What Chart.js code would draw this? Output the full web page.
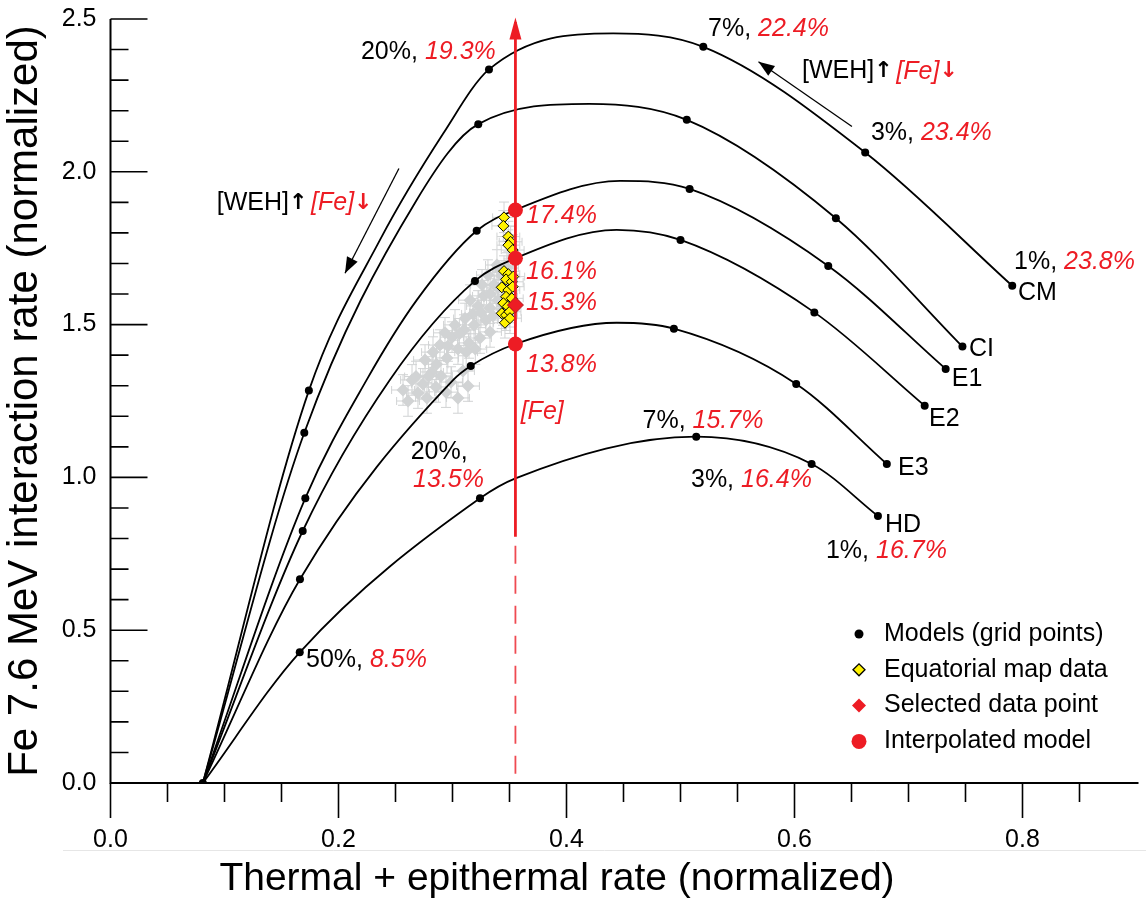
<!DOCTYPE html>
<html>
<head>
<meta charset="utf-8">
<title>Fe 7.6 MeV vs thermal + epithermal</title>
<script src="https://cdn.jsdelivr.net/npm/chart.js@4.4.1/dist/chart.umd.min.js"></script>
<style>
  html, body { margin: 0; padding: 0; background: #fff; }
  #wrap { width: 1146px; height: 901px; }
</style>
</head>
<body>
<div id="wrap"><canvas id="fePlot" width="1146" height="901"></canvas></div>
<script>
'use strict';

const FONT = '"Liberation Sans", Arial, Helvetica, sans-serif';
const RED = '#ed1c24';
const GREY = '#d1d3d4';

// axis ticks
const xTicks = [0, 0.2, 0.4, 0.6, 0.8];
const yTicks = [0, 0.5, 1.0, 1.5, 2.0, 2.5];

// all model curves start here (100% WEH)
const originX = 0.081;
const originY = 0;

// grid points per model, WEH = 50, 20, 7, 3, 1 %
const cmX = [0.174, 0.332, 0.520, 0.662, 0.791];
const cmY = [1.284, 2.335, 2.409, 2.063, 1.627];
const ciX = [0.170, 0.3226, 0.5055, 0.6363, 0.7473];
const ciY = [1.146, 2.156, 2.170, 1.848, 1.428];
const e1X = [0.1709, 0.3212, 0.508, 0.6296, 0.7326];
const e1Y = [0.932, 1.807, 1.944, 1.692, 1.355];
const e2X = [0.1686, 0.3197, 0.500, 0.6174, 0.7142];
const e2Y = [0.8246, 1.643, 1.777, 1.540, 1.2346];
const e3X = [0.1662, 0.316, 0.4942, 0.6015, 0.681];
const e3Y = [0.6666, 1.3645, 1.4866, 1.3056, 1.044];
const hdX = [0.166, 0.3241, 0.5138, 0.615, 0.6732];
const hdY = [0.4277, 0.9316, 1.1332, 1.044, 0.8737];

// extra points along each model curve: rising limb, crossing with [Fe], top
const cmTraceX = [0.2364, 0.292, 0.441];
const cmTraceY = [1.777, 2.126, 2.453];
const ciTraceX = [0.2686, 0.420];
const ciTraceY = [1.908, 2.222];
const e1TraceX = [0.2247, 0.2686, 0.3552, 0.447];
const e1TraceY = [1.319, 1.580, 1.875, 1.970];
const e2TraceX = [0.245, 0.3552, 0.444];
const e2TraceY = [1.319, 1.717, 1.810];
const e3TraceX = [0.3007, 0.3552, 0.444];
const e3TraceY = [1.319, 1.4365, 1.506];
const hdTraceX = [0.3552];
const hdTraceY = [0.997];

// orbital data (grey) with error bars
const greyX = [0.2566, 0.261, 0.2645, 0.2697, 0.2741, 0.2776, 0.282, 0.2855, 0.2899, 0.2943,
  0.2987, 0.3048, 0.3092, 0.3136, 0.2759, 0.2829, 0.289, 0.2952, 0.2996, 0.3048,
  0.3101, 0.3145, 0.3189, 0.3241, 0.3294, 0.3022, 0.2934, 0.3329, 0.3224, 0.3276,
  0.3329, 0.3364, 0.3399, 0.3434, 0.3461, 0.3311, 0.339, 0.3443, 0.3154, 0.3259,
  0.3478, 0.3355, 0.318, 0.311, 0.306, 0.286, 0.279, 0.268, 0.296, 0.320,
  0.333, 0.340, 0.325, 0.312];
const greyY = [1.286, 1.250, 1.319, 1.276, 1.306, 1.260, 1.345, 1.296, 1.332, 1.279,
  1.312, 1.260, 1.348, 1.299, 1.384, 1.410, 1.433, 1.391, 1.459, 1.420,
  1.482, 1.440, 1.499, 1.456, 1.515, 1.499, 1.473, 1.476, 1.561, 1.594,
  1.554, 1.630, 1.580, 1.659, 1.613, 1.662, 1.695, 1.548, 1.580, 1.630,
  1.685, 1.528, 1.535, 1.520, 1.470, 1.370, 1.330, 1.330, 1.430, 1.420,
  1.600, 1.620, 1.540, 1.410];
const errX = 0.01;
const errY = 0.05;

// equatorial map data (yellow)
const eqX = [0.3452, 0.3446, 0.349, 0.351, 0.349, 0.3528, 0.3452, 0.349, 0.347, 0.352,
  0.3432, 0.349, 0.3528, 0.347, 0.352, 0.3446, 0.3484, 0.3432, 0.347, 0.350,
  0.346, 0.3504, 0.3533];
const eqY = [1.851, 1.823, 1.788, 1.771, 1.760, 1.744, 1.675, 1.665, 1.648, 1.640,
  1.622, 1.613, 1.624, 1.591, 1.586, 1.570, 1.559, 1.537, 1.531, 1.542,
  1.506, 1.521, 1.657];

// selected point and the interpolated models at its abscissa
const selX = [0.3552];
const selY = [1.564];
const interpX = [0.3552, 0.3552, 0.3552];
const interpY = [1.875, 1.717, 1.4365];

// the [Fe] arrow
const feLineX = 0.3552;
const feSolidY = [0.806, 2.49];
const feDashY = [0.03, 0.78];
const feTipY = 2.505;

function toPts(xs, ys) {
  return xs.map((x, i) => ({x: x, y: ys[i]}));
}

function curvePts(gx, gy, tx, ty) {
  const pts = [{x: originX, y: originY}].concat(toPts(gx, gy), toPts(tx, ty));
  return pts.sort((a, b) => a.x - b.x);
}

function curve(label, pts) {
  return {
    label: label, data: pts, showLine: true, order: 5,
    borderColor: '#000', borderWidth: 1.8, pointRadius: 0,
    cubicInterpolationMode: 'monotone', fill: false
  };
}

const gridPts = [{x: originX, y: originY}].concat(
  toPts(cmX, cmY), toPts(ciX, ciY), toPts(e1X, e1Y),
  toPts(e2X, e2Y), toPts(e3X, e3Y), toPts(hdX, hdY));

// arrow glyphs next to [WEH] and [Fe]
const UP = {t: '\u2191 ', arrow: 1};
const DOWN = {t: '\u2193', red: 1, arrow: 1};

// text placed on the plot, in data units (left edge, vertical middle)
const notes = [
  {x: 0.2197, y: 2.392, parts: [{t: '20%, '}, {t: '19.3%', red: 1, it: 1}]},
  {x: 0.5242, y: 2.466, parts: [{t: '7%, '}, {t: '22.4%', red: 1, it: 1}]},
  {x: 0.6066, y: 2.328, parts: [{t: '[WEH]'}, UP, {t: '[Fe]', red: 1, it: 1}, DOWN]},
  {x: 0.667, y: 2.127, parts: [{t: '3%, '}, {t: '23.4%', red: 1, it: 1}]},
  {x: 0.7926, y: 1.706, parts: [{t: '1%, '}, {t: '23.8%', red: 1, it: 1}]},
  {x: 0.796, y: 1.604, parts: [{t: 'CM'}]},
  {x: 0.753, y: 1.420, parts: [{t: 'CI'}]},
  {x: 0.738, y: 1.321, parts: [{t: 'E1'}]},
  {x: 0.718, y: 1.190, parts: [{t: 'E2'}]},
  {x: 0.6908, y: 1.030, parts: [{t: 'E3'}]},
  {x: 0.6794, y: 0.844, parts: [{t: 'HD'}]},
  {x: 0.6276, y: 0.760, parts: [{t: '1%, '}, {t: '16.7%', red: 1, it: 1}]},
  {x: 0.5092, y: 0.9915, parts: [{t: '3%, '}, {t: '16.4%', red: 1, it: 1}]},
  {x: 0.4667, y: 1.1855, parts: [{t: '7%, '}, {t: '15.7%', red: 1, it: 1}]},
  {x: 0.2633, y: 1.084, parts: [{t: '20%,'}]},
  {x: 0.2654, y: 0.9915, parts: [{t: '13.5%', red: 1, it: 1}]},
  {x: 0.1715, y: 0.4025, parts: [{t: '50%, '}, {t: '8.5%', red: 1, it: 1}]},
  {x: 0.3598, y: 1.215, parts: [{t: '[Fe]', red: 1, it: 1}]},
  {x: 0.3645, y: 1.855, parts: [{t: '17.4%', red: 1, it: 1}]},
  {x: 0.3645, y: 1.673, parts: [{t: '16.1%', red: 1, it: 1}]},
  {x: 0.3645, y: 1.570, parts: [{t: '15.3%', red: 1, it: 1}]},
  {x: 0.3645, y: 1.368, parts: [{t: '13.8%', red: 1, it: 1}]},
  {x: 0.0932, y: 1.897, parts: [{t: '[WEH]'}, UP, {t: '[Fe]', red: 1, it: 1}, DOWN]}
];

// direction arrows: tail -> head, data units
const arrows = [
  {x0: 0.253, y0: 2.011, x1: 0.2057, y1: 1.668},
  {x0: 0.6504, y0: 2.148, x1: 0.5684, y1: 2.360}
];

const legendItems = [
  {text: 'Models (grid points)', style: 'circle', r: 4.5, fill: '#000', border: 0},
  {text: 'Equatorial map data', style: 'rectRot', r: 6, fill: '#fff200', border: 1},
  {text: 'Selected data point', style: 'rectRot', r: 7, fill: RED, border: 0},
  {text: 'Interpolated model', style: 'circle', r: 7.5, fill: RED, border: 0}
];

function drawParts(ctx, px, py, parts) {
  let cx = px;
  ctx.textBaseline = 'middle';
  ctx.textAlign = 'left';
  parts.forEach(p => {
    if (p.arrow) {
      ctx.font = 'bold 22px "DejaVu Sans", sans-serif';
    } else {
      ctx.font = (p.it ? 'italic ' : '') + '25px ' + FONT;
    }
    ctx.fillStyle = p.red ? RED : '#000';
    ctx.fillText(p.t, cx, py);
    cx += ctx.measureText(p.t).width - (p.arrow ? 4 : 0);
  });
}

function arrowHead(ctx, x0, y0, x1, y1, len, half) {
  const ang = Math.atan2(y1 - y0, x1 - x0);
  ctx.beginPath();
  ctx.moveTo(x1, y1);
  ctx.lineTo(x1 - len * Math.cos(ang) + half * Math.sin(ang), y1 - len * Math.sin(ang) - half * Math.cos(ang));
  ctx.lineTo(x1 - len * Math.cos(ang) - half * Math.sin(ang), y1 - len * Math.sin(ang) + half * Math.cos(ang));
  ctx.closePath();
  ctx.fill();
}

const underlay = {
  id: 'underlay',
  beforeDatasetsDraw(chart) {
    const {ctx, scales: {x, y}} = chart;
    ctx.save();
    // faint panel edge under the tick labels
    ctx.strokeStyle = '#e6e6e6';
    ctx.lineWidth = 1;
    ctx.beginPath();
    ctx.moveTo(63, 850.5); ctx.lineTo(1146, 850.5);
    ctx.stroke();
    // error bars
    ctx.strokeStyle = GREY;
    ctx.beginPath();
    const bars = (xs, ys) => xs.forEach((v, i) => {
      const px = x.getPixelForValue(v), py = y.getPixelForValue(ys[i]);
      const xa = x.getPixelForValue(v - errX), xb = x.getPixelForValue(v + errX);
      const ya = y.getPixelForValue(ys[i] - errY), yb = y.getPixelForValue(ys[i] + errY);
      ctx.moveTo(xa, py); ctx.lineTo(xb, py);
      ctx.moveTo(xa, py - 4); ctx.lineTo(xa, py + 4);
      ctx.moveTo(xb, py - 4); ctx.lineTo(xb, py + 4);
      ctx.moveTo(px, ya); ctx.lineTo(px, yb);
      ctx.moveTo(px - 5, ya); ctx.lineTo(px + 5, ya);
      ctx.moveTo(px - 5, yb); ctx.lineTo(px + 5, yb);
    });
    bars(greyX, greyY);
    bars(eqX, eqY);
    ctx.stroke();
    ctx.restore();
  }
};

const overlay = {
  id: 'overlay',
  afterDatasetsDraw(chart) {
    const {ctx, chartArea: a, scales: {x, y}} = chart;
    ctx.save();

    // axes with tick marks (x ticks point down, y ticks point in)
    ctx.strokeStyle = '#000';
    ctx.lineWidth = 2;
    ctx.beginPath();
    ctx.moveTo(a.left, a.top);
    ctx.lineTo(a.left, a.bottom);
    ctx.lineTo(a.right + 2, a.bottom);
    ctx.stroke();
    ctx.lineWidth = 1.6;
    ctx.beginPath();
    for (let i = 0; i <= 17; i++) {
      const v = i * 0.05;
      const px = x.getPixelForValue(v);
      const major = xTicks.some(t => Math.abs(t - v) < 1e-6);
      ctx.moveTo(px, a.bottom);
      ctx.lineTo(px, a.bottom + (major ? 35 : 19));
    }
    for (let i = 1; i <= 25; i++) {
      const v = i * 0.1;
      const py = y.getPixelForValue(v);
      const major = yTicks.some(t => Math.abs(t - v) < 1e-6);
      ctx.moveTo(a.left, py);
      ctx.lineTo(a.left + (major ? 37 : 18), py);
    }
    ctx.stroke();

    // x axis title
    ctx.fillStyle = '#000';
    ctx.font = '39px ' + FONT;
    ctx.textAlign = 'center';
    ctx.textBaseline = 'middle';
    ctx.fillText('Thermal + epithermal rate (normalized)', 557, 879);

    // [Fe] arrow head
    ctx.fillStyle = RED;
    const fx = x.getPixelForValue(feLineX);
    arrowHead(ctx, fx, y.getPixelForValue(feSolidY[0]), fx, y.getPixelForValue(feTipY), 22, 6);

    // WEH direction arrows
    ctx.strokeStyle = '#000';
    ctx.fillStyle = '#000';
    ctx.lineWidth = 1.3;
    arrows.forEach(ar => {
      const x0 = x.getPixelForValue(ar.x0), y0 = y.getPixelForValue(ar.y0);
      const x1 = x.getPixelForValue(ar.x1), y1 = y.getPixelForValue(ar.y1);
      ctx.beginPath();
      ctx.moveTo(x0, y0);
      ctx.lineTo(x1, y1);
      ctx.stroke();
      arrowHead(ctx, x0, y0, x1, y1, 16, 6);
    });

    // labels
    notes.forEach(n => drawParts(ctx, x.getPixelForValue(n.x), y.getPixelForValue(n.y), n.parts));

    // legend, bottom right of the plot
    const lx = a.right - 277.5;
    legendItems.forEach((it, i) => {
      const ly = a.bottom - 149 + i * 35.8;
      ctx.fillStyle = it.fill;
      ctx.strokeStyle = '#000';
      Chart.helpers.drawPoint(ctx, {pointStyle: it.style, radius: it.r, rotation: 0, borderWidth: it.border}, lx, ly);
      ctx.fillStyle = '#000';
      ctx.font = '25px ' + FONT;
      ctx.textAlign = 'left';
      ctx.textBaseline = 'middle';
      ctx.fillText(it.text, lx + 25, ly);
    });
    ctx.restore();
  }
};

const datasets = [
  {label: 'orbital data', data: toPts(greyX, greyY), order: 6,
   pointStyle: 'rectRot', pointRadius: 6.5, backgroundColor: GREY, borderWidth: 0},
  curve('CM', curvePts(cmX, cmY, cmTraceX, cmTraceY)),
  curve('CI', curvePts(ciX, ciY, ciTraceX, ciTraceY)),
  curve('E1', curvePts(e1X, e1Y, e1TraceX, e1TraceY)),
  curve('E2', curvePts(e2X, e2Y, e2TraceX, e2TraceY)),
  curve('E3', curvePts(e3X, e3Y, e3TraceX, e3TraceY)),
  curve('HD', curvePts(hdX, hdY, hdTraceX, hdTraceY)),
  {label: 'Models (grid points)', data: gridPts, order: 4,
   pointStyle: 'circle', pointRadius: 4, backgroundColor: '#000', borderWidth: 0},
  {label: 'Equatorial map data', data: toPts(eqX, eqY), order: 3,
   pointStyle: 'rectRot', pointRadius: 5.5, backgroundColor: '#fff200', borderColor: '#000', borderWidth: 1},
  {label: '[Fe]', data: [{x: feLineX, y: feSolidY[0]}, {x: feLineX, y: feSolidY[1]}], order: 2,
   showLine: true, borderColor: RED, borderWidth: 2.8, pointRadius: 0},
  {label: '[Fe] dashed', data: [{x: feLineX, y: feDashY[0]}, {x: feLineX, y: feDashY[1]}], order: 2,
   showLine: true, borderColor: '#ef4a51', borderWidth: 1.8, borderDash: [18, 12], pointRadius: 0},
  {label: 'Interpolated model', data: toPts(interpX, interpY), order: 1,
   pointStyle: 'circle', pointRadius: 7.5, backgroundColor: RED, borderWidth: 0},
  {label: 'Selected data point', data: toPts(selX, selY), order: 0,
   pointStyle: 'rectRot', pointRadius: 8, backgroundColor: RED, borderColor: '#b3141b', borderWidth: 1}
];

new Chart(document.getElementById('fePlot'), {
  type: 'scatter',
  data: {datasets: datasets},
  plugins: [underlay, overlay],
  options: {
    responsive: false,
    animation: false,
    events: [],
    layout: {padding: {top: 19, right: 9.5, left: 0, bottom: 0}},
    plugins: {legend: {display: false}, tooltip: {enabled: false}},
    scales: {
      x: {
        type: 'linear', min: 0, max: 0.9,
        afterBuildTicks: s => { s.ticks = xTicks.map(v => ({value: v})); },
        afterFit: s => { s.height = 118; s.paddingLeft = 0; s.paddingRight = 0; },
        grid: {display: false, drawTicks: false},
        border: {display: false},
        ticks: {
          callback: v => Number(v).toFixed(1),
          font: {family: FONT, size: 25}, color: '#000',
          padding: 42, autoSkip: false, maxRotation: 0
        }
      },
      y: {
        type: 'linear', min: 0, max: 2.5,
        afterBuildTicks: s => { s.ticks = yTicks.map(v => ({value: v})); },
        afterFit: s => { s.width = 110.5; s.paddingTop = 0; s.paddingBottom = 0; },
        grid: {display: false, drawTicks: false},
        border: {display: false},
        ticks: {
          callback: v => Number(v).toFixed(1),
          font: {family: FONT, size: 25}, color: '#000',
          padding: 14, autoSkip: false
        },
        title: {display: true, text: 'Fe 7.6 MeV interaction rate (normalized)',
          font: {family: FONT, size: 42}, color: '#000', padding: 0}
      }
    }
  }
});
</script>
</body>
</html>
